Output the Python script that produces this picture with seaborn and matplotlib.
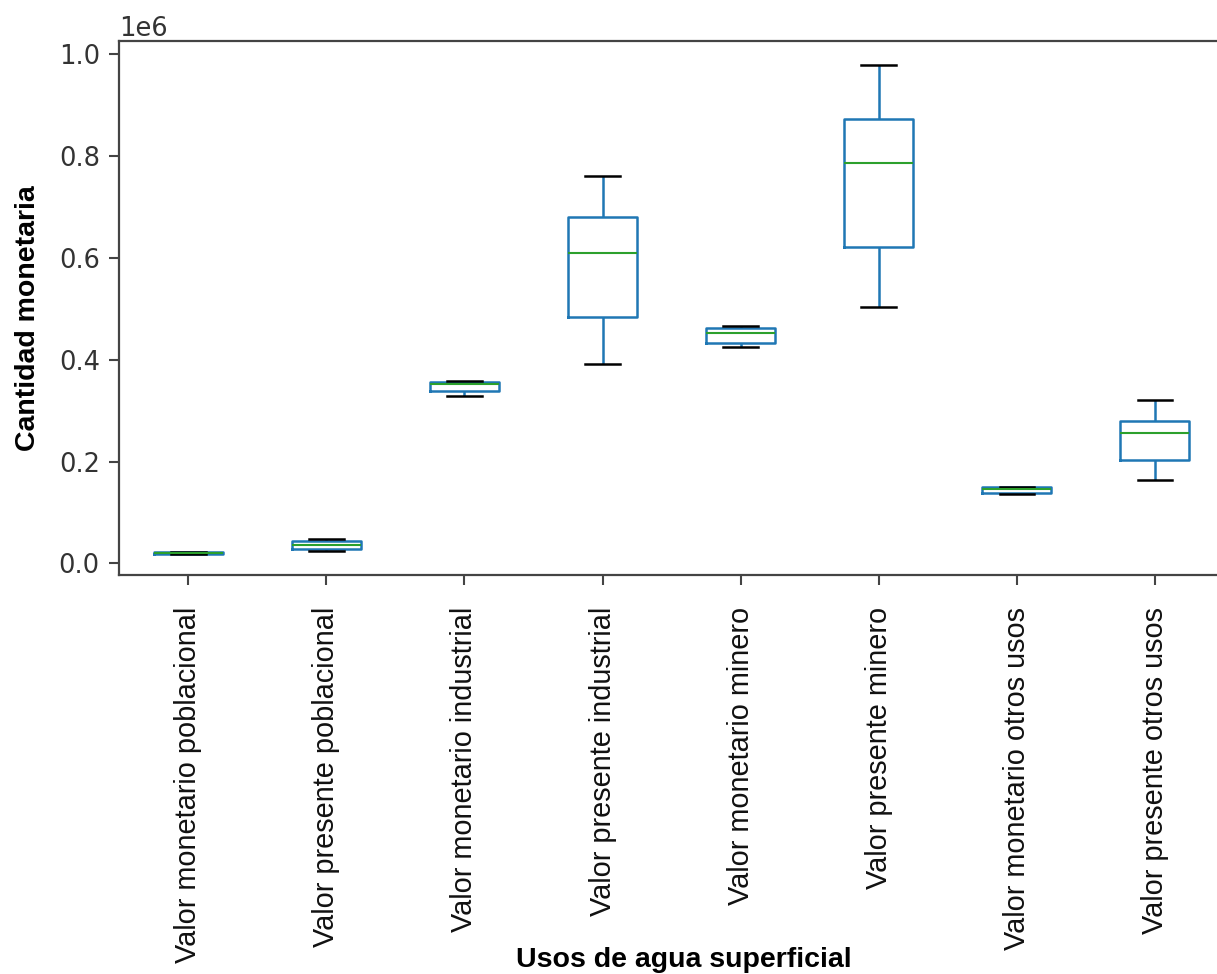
import pandas as pd
import matplotlib
matplotlib.use("Agg")
import matplotlib.pyplot as plt
import seaborn as sns

# Categories (tick labels) and five read-off values per box: min, q1, median, q3, max
categorias = [
    "Valor monetario poblacional",
    "Valor presente poblacional",
    "Valor monetario industrial",
    "Valor presente industrial",
    "Valor monetario minero",
    "Valor presente minero",
    "Valor monetario otros usos",
    "Valor presente otros usos",
]
monetario_poblacional = [19000, 19500, 21000, 22500, 23000]
presente_poblacional = [25000, 28000, 37000, 44000, 47500]
monetario_industrial = [328000, 338000, 352000, 356000, 358000]
presente_industrial = [391000, 483000, 609000, 679000, 760000]
monetario_minero = [425000, 432000, 452000, 462000, 466000]
presente_minero = [503000, 621000, 785000, 872000, 977000]
monetario_otros = [135500, 138000, 147000, 150000, 150500]
presente_otros = [164000, 203000, 256000, 279000, 321000]

series = [monetario_poblacional, presente_poblacional, monetario_industrial,
          presente_industrial, monetario_minero, presente_minero,
          monetario_otros, presente_otros]

df = pd.DataFrame({cat: vals for cat, vals in zip(categorias, series)})

fig = plt.figure(figsize=(12.17, 9.74), dpi=100)
# the axes run a little past the right edge of the figure, as in the original
ax = fig.add_axes([0.098, 0.4097, 0.9077, 0.5486])

sns.boxplot(data=df, ax=ax, width=0.5, fill=False, color="#1f77b4",
            linewidth=1.8, showfliers=False,
            medianprops={"color": "#2ca02c", "linewidth": 1.5},
            capprops={"color": "black", "linewidth": 1.8},
            whiskerprops={"color": "#1f77b4", "linewidth": 1.8},
            boxprops={"color": "#1f77b4", "linewidth": 1.8})

ax.set_xlim(-0.5, 7.5)
ax.set_ylim(-22500, 1025500)

for s in ax.spines.values():
    s.set_color("#444444")
    s.set_linewidth(1.6)
ax.spines["right"].set_visible(False)

ax.tick_params(axis="y", labelsize=18.5, length=7, width=1.5, pad=7,
               colors="#444444", labelcolor="#333333")
ax.tick_params(axis="x", length=7, width=1.5, pad=16, colors="#444444")
ax.yaxis.get_offset_text().set_fontsize(18.5)
ax.yaxis.get_offset_text().set_color("#333333")

ax.set_xticks(range(len(categorias)))
ax.set_xticklabels(categorias, rotation=90, fontsize=20.8,
                   fontfamily="Liberation Sans", color="#111111")

ax.set_xlabel("Usos de agua superficial", fontsize=20.5, fontweight="bold",
              fontfamily="Liberation Sans")
ax.set_ylabel("Cantidad monetaria", fontsize=20.5, fontweight="bold",
              fontfamily="Liberation Sans")
ax.xaxis.set_label_coords(0.511, -0.696)
ax.yaxis.set_label_coords(-0.071, 0.481)

fig.savefig("out.png", dpi=100)
